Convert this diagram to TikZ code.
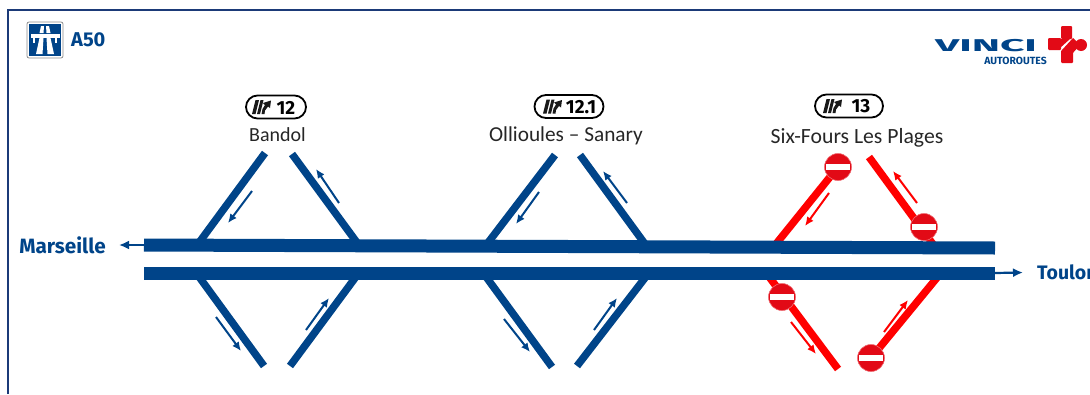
\documentclass[tikz,border=0pt]{standalone}
\usepackage{fontspec}
\setmainfont{Carlito}
\newfontfamily\signfont{Fira Sans}
\usetikzlibrary{arrows.meta}
\definecolor{roadblue}{HTML}{004489}
\definecolor{framenavy}{HTML}{1B3A78}
\definecolor{ramp}{HTML}{FF0000}
\definecolor{signred}{HTML}{E20A16}
\tikzset{
  x=1pt,y=-1pt,
  rampline/.style={line width=7.5pt,roadblue},
  redramp/.style={line width=7.5pt,ramp},
  mainroad/.style={line width=13pt,roadblue},
  dirblue/.style={line width=2pt,roadblue,-{Latex[length=9pt,width=8pt]}},
  dirred/.style={line width=2pt,ramp,-{Latex[length=9pt,width=8pt]}},
  citylabel/.style={text=black!85,inner sep=0pt},
  placelabel/.style={font=\signfont\bfseries\fontsize{20.7}{21}\selectfont,text=roadblue,inner sep=0pt},
  badgetext/.style={inner sep=0pt,font=\signfont\bfseries\fontsize{19}{19}\selectfont},
  noentry/.style={circle,fill=signred,draw=signred!60!white,line width=.6pt,minimum size=27pt,inner sep=0pt,
    path picture={\fill[white] ([xshift=-12pt,yshift=-3pt]path picture bounding box.center) rectangle ([xshift=12pt,yshift=3pt]path picture bounding box.center);}},
  pill/.style={draw=black,line width=1.8pt,rounded corners=11.5pt,minimum height=23pt,inner sep=0pt,fill=white},
  pics/exiticon/.style={code={
    \fill[black!90] (-10,7) -- (-6.5,-7) -- (-3,-7) -- (-6.5,7) -- cycle;
    \fill[black!90] (-5,7) -- (-1.5,-7) -- (1.5,-7) -- (-2,7) -- cycle;
    \fill[black!90] (-.5,7) -- (.5,2) -- (3,-2) -- (1,-4) -- (9,-6.5) -- (8,1) -- (6,-.5) -- (3,3.5) -- (2.5,7) -- cycle;
  }}
}
\begin{document}
\begin{tikzpicture}
\useasboundingbox (0,0) rectangle (1090,394);
% frame
\draw[framenavy,line width=2pt] (7.5,394) -- (7.5,10) -- (1090,10);
% motorway sign
\node[draw=black!45,line width=.8pt,fill=white,rounded corners=2pt,minimum size=36pt,inner sep=0pt] (mwbox) at (45,40) {};
\fill[roadblue] (29,24) rectangle (61,56);
\fill[white] (30.5,34) rectangle (59.5,38);
\fill[white] (41,26) -- (44,26) -- (43.5,33) -- (39.5,33) -- cycle;
\fill[white] (46,26) -- (49,26) -- (50.5,33) -- (46.5,33) -- cycle;
\fill[white] (39.5,38) -- (43.5,38) -- (42.5,54) -- (36,54) -- cycle;
\fill[white] (46.5,38) -- (50.5,38) -- (54,54) -- (47.5,54) -- cycle;
\fill[white] (33,38) rectangle (35,43);
\fill[white] (55,38) rectangle (57,43);
\node[placelabel,font=\signfont\bfseries\fontsize{20}{20}\selectfont,anchor=west] (a50) at (71,40) {A50};
% vinci logo
\node[inner sep=0pt,text=roadblue,anchor=center] (vinci) at (986,46) {\scalebox{2.24}[.9]{\signfont\bfseries\fontsize{19}{19}\selectfont VINCI}};
\node[inner sep=0pt,text=roadblue,font=\signfont\bfseries\fontsize{10.4}{11}\selectfont] (autoroutes) at (1015.5,60.5) {AUTOROUTES};
\begin{scope}[signred,line width=0pt]
\fill[rounded corners=1pt] (1061,26) rectangle (1072,39);
\fill[rounded corners=1pt] (1048,38) rectangle (1061,50);
\fill (1061,39) -- (1070,39) -- (1060,48) -- cycle;
\fill[rounded corners=1pt] (1061,50) rectangle (1073,63);
\fill (1062,50) -- (1073,38) -- (1080,45) -- (1072,54) -- cycle;
\fill (1081,45) circle (6);
\end{scope}
% ramp coordinates
\coordinate (b1a) at (265,153); \coordinate (b1b) at (198,244);
\coordinate (b2a) at (292,154); \coordinate (b2b) at (358,244);
\coordinate (b3a) at (197,274); \coordinate (b3b) at (264,366);
\coordinate (b4a) at (290,366); \coordinate (b4b) at (358,274);
\coordinate (o1a) at (555,155); \coordinate (o1b) at (487,244);
\coordinate (o2a) at (580,155); \coordinate (o2b) at (645,244);
\coordinate (o3a) at (484,274); \coordinate (o3b) at (552,367);
\coordinate (o4a) at (577,366); \coordinate (o4b) at (648,274);
\coordinate (r1b) at (776,244); \coordinate (r2a) at (869,157); \coordinate (r2b) at (935,247);
\coordinate (r3a) at (767,274); \coordinate (r3b) at (838,369); \coordinate (r4b) at (940,274);
% ramps
\foreach \s/\e in {b1a/b1b,b2a/b2b,b3a/b3b,b4a/b4b,o1a/o1b,o2a/o2b,o3a/o3b,o4a/o4b}
  \draw[rampline] (\s) -- (\e);
\coordinate (n1) at (838,167);
\coordinate (n2) at (924,227);
\coordinate (n3) at (782,297);
\coordinate (n4) at (871,358);
\draw[redramp] (n1) -- (r1b);
\draw[redramp] (r2a) -- (r2b);
\draw[redramp] (r3a) -- (r3b);
\draw[redramp] (n4) -- (r4b);
\node[noentry] (s1) at (n1) {};
\node[noentry] (s2) at (n2) {};
\node[noentry] (s3) at (n3) {};
\node[noentry] (s4) at (n4) {};
% main carriageways
\coordinate (m1a) at (144,245); \coordinate (m1b) at (995,248);
\coordinate (m2a) at (144,273); \coordinate (m2b) at (995,273);
\draw[mainroad] (m1a) -- (m1b);
\draw[mainroad] (m2a) -- (m2b);
% places
\node[placelabel,anchor=east] (mars) at (106,245) {Marseille};
\node[placelabel,font=\signfont\bfseries\fontsize{19.5}{20}\selectfont,anchor=west] (toul) at (1037,272) {Toulon};
\coordinate (marsarr) at (119,245);
\coordinate (toularr) at (1023,272.5);
\draw[line width=2.2pt,roadblue,-{Latex[length=10pt,width=9pt]}] (m1a) -- (marsarr);
\draw[line width=2.2pt,roadblue,-{Latex[length=10pt,width=9pt]}] (m2b) -- (toularr);
% direction arrows
\draw[dirblue] (252,191) -- (228,223);
\draw[dirblue] (339,203) -- (316,169);
\draw[dirblue] (216,317) -- (241,351);
\draw[dirblue] (306,330) -- (329,298);
\draw[dirblue] (539,192) -- (516,224);
\draw[dirblue] (627,203) -- (603,171);
\draw[dirblue] (504,319) -- (530,352);
\draw[dirblue] (594,330) -- (617,298);
\draw[dirred] (829,193) -- (805,226);
\draw[dirred] (917,203) -- (893,171);
\draw[dirred] (791,322) -- (816,354);
\draw[dirred] (884,332) -- (908,300);
% exit badges
\node[pill,minimum width=60pt] (p12) at (276,107) {};
\pic at (262,107) {exiticon};
\node[badgetext] (t12) at (286,107.5) {12};
\node[pill,minimum width=69pt] (p121) at (569,106.5) {};
\pic at (553,106.5) {exiticon};
\node[badgetext] (t121) at (581,107) {12.1};
\node[pill,minimum width=68pt] (p13) at (849,106) {};
\pic at (833,106) {exiticon};
\node[badgetext] (t13) at (861,106.5) {13};
\node[citylabel,font=\fontsize{20}{20}\selectfont] (bandol) at (277.5,135) {Bandol};
\node[citylabel,font=\fontsize{21.3}{21}\selectfont] (ollioules) at (566,136) {Ollioules – Sanary};
\node[citylabel,font=\fontsize{21.7}{21}\selectfont] (sixfours) at (857,138) {Six-Fours Les Plages};
\end{tikzpicture}
\end{document}
